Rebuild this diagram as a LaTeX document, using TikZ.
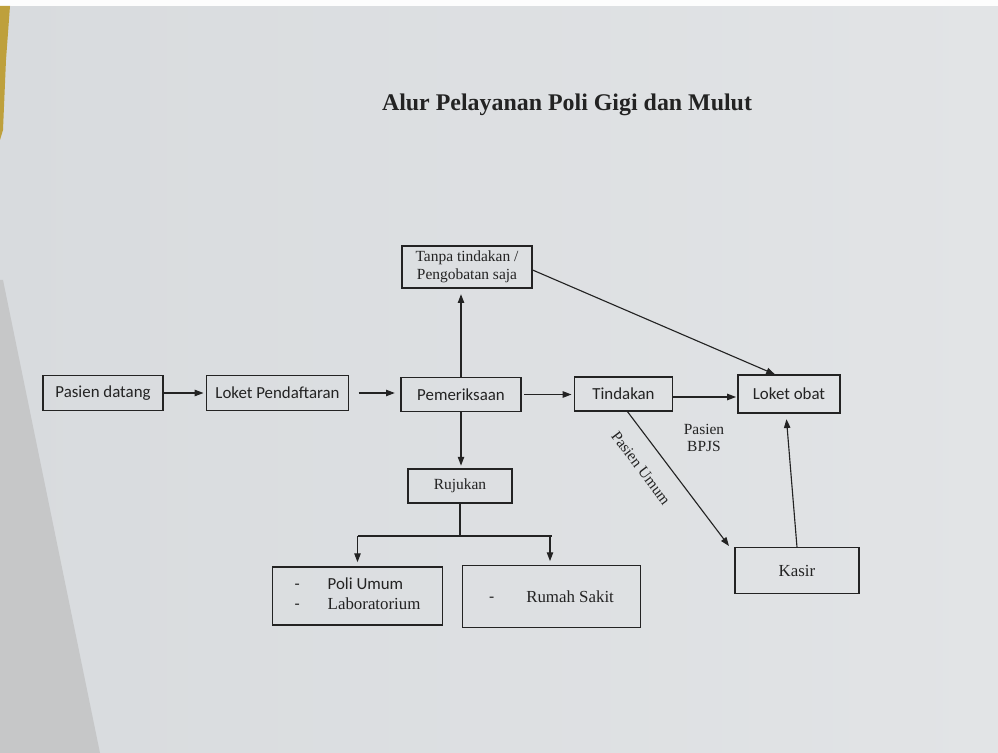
\documentclass[tikz,border=0pt]{standalone}
\usepackage{fontspec}
\setmainfont{Liberation Serif}
\newfontfamily\calib{Carlito}
\usetikzlibrary{arrows.meta,calc}
\definecolor{paper}{RGB}{216,219,222}
\definecolor{paperR}{RGB}{226,228,230}
\definecolor{shadowc}{RGB}{198,199,200}
\definecolor{edgey}{RGB}{190,160,60}
\definecolor{ink}{RGB}{35,35,35}
\tikzset{
  box/.style={draw=ink, line width=0.8pt, inner sep=0pt, align=center, text=ink},
  sansbox/.style={box, font=\calib\fontsize{12}{14}\selectfont},
  serifbox/.style={box, font=\fontsize{11}{13}\selectfont},
  arr/.style={draw=ink, line width=0.8pt, -{Triangle[length=2.2mm,width=1.6mm]}},
  ln/.style={draw=ink, line width=0.8pt},
  lbl/.style={text=ink, font=\fontsize{11}{12}\selectfont, inner sep=0pt, align=center}
}
\begin{document}
\begin{tikzpicture}[x=0.025cm,y=-0.025cm]
% background (photographed paper)
\useasboundingbox (0,0) rectangle (998,753);
\shade[left color=paper, right color=paperR] (0,0) rectangle (998,753);
\fill[white!95!paper] (0,0) rectangle (998,6);
\fill[edgey] (0,6) -- (10,6) -- (6,60) -- (3,130) -- (0,140) -- cycle;
\fill[shadowc] (3,280) -- (100,753) -- (0,753) -- (0,280) -- cycle;

% title
\node[lbl, font=\bfseries\fontsize{17}{19}\selectfont] (title) at (567,105) {Alur Pelayanan Poli Gigi dan Mulut};

% boxes
\node[sansbox, minimum width=3.0cm, minimum height=0.89cm] (pd) at (103,393) {Pasien datang};
\node[sansbox, minimum width=3.53cm, minimum height=0.86cm] (lp) at (277.5,393) {Loket Pendaftaran};
\node[sansbox, minimum width=3.0cm, minimum height=0.83cm] (pm) at (461,394.5) {Pemeriksaan};
\node[sansbox, minimum width=2.43cm, minimum height=0.85cm] (td) at (623.5,394) {Tindakan};
\node[sansbox, minimum width=2.55cm, minimum height=0.95cm] (lo) at (789,394) {Loket obat};
\node[serifbox, minimum width=3.25cm, minimum height=1.05cm] (tt) at (467,267) {Tanpa tindakan /\\Pengobatan saja};
\node[serifbox, minimum width=2.6cm, minimum height=0.85cm] (rj) at (460,486) {Rujukan};
\node[box, minimum width=4.23cm, minimum height=1.45cm] (pu) at (357.5,596)
  {\begin{tabular}{@{}l@{\hspace{7mm}}l@{}}
   {\calib\fontsize{12}{14}\selectfont -} & {\calib\fontsize{12}{14}\selectfont Poli Umum}\\[2pt]
   {\calib\fontsize{12}{14}\selectfont -} & \fontsize{12}{14}\selectfont Laboratorium
   \end{tabular}};
\node[box, minimum width=4.43cm, minimum height=1.53cm] (rs) at (551.5,596.5)
  {\fontsize{12}{14}\selectfont{\calib -}\hspace{8mm}Rumah Sakit};
\node[serifbox, minimum width=3.1cm, minimum height=1.13cm, font=\fontsize{12}{14}\selectfont] (ks) at (797,570.5) {Kasir};

% connectors
\draw[arr, shorten >=2pt] (pd.east) -- (lp.west);
\draw[arr, shorten <=7pt, shorten >=4pt] (lp.east) -- (lp.east -| pm.west);
\draw[arr, shorten <=2pt, shorten >=2pt] (pm.east) -- (pm.east -| td.west);
\draw[arr, shorten >=1pt] ($(td.east)+(0,3)$) -- ($(td.east -| lo.west)+(0,3)$);
\draw[arr, shorten >=4pt] (pm.north) -- (pm.north |- tt.south);
\draw[arr] ($(tt.east)+(0,3)$) -- ($(lo.north)+(-14,0)$);
\draw[arr, shorten >=2pt] (pm.south) -- (pm.south |- rj.north);
\coordinate (bj) at (460,536);
\draw[ln] (rj.south) -- (bj);
\draw[ln] (bj -| pu.north) -- (bj -| rs.north);
\draw[arr, shorten >=3pt] (bj -| pu.north) -- (pu.north);
\draw[arr, shorten >=3pt] ($(bj -| rs.north)+(-1.5,0)$) -- ($(rs.north)+(-1.5,0)$);
\coordinate (umA) at (627,411);
\coordinate (umB) at (729,546);
\draw[arr] (umA) -- (umB);
\draw[arr, shorten >=4pt] (ks.north) -- ($(lo.south)+(-3,0)$);

% labels
\node[lbl, rotate=-53] (lumum) at (641,468) {Pasien Umum};
\node[lbl] (lbpjs) at (704,438) {Pasien\\BPJS};
\end{tikzpicture}
\end{document}
